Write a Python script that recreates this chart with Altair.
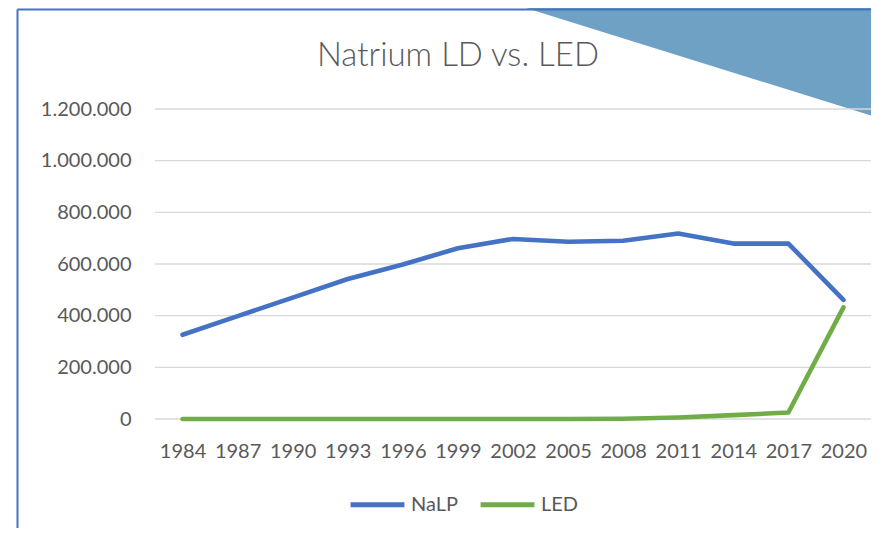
import altair as alt
import pandas as pd

years = [1984, 1987, 1990, 1993, 1996, 1999, 2002, 2005, 2008, 2011, 2014, 2017, 2020]
nalp = [326000, 398000, 470000, 542000, 598000, 661000, 697000, 686000, 690000, 718000, 679000, 679000, 461000]
led = [0, 0, 0, 0, 0, 0, 0, 0, 1000, 6000, 15000, 25000, 432000]
series_names = ["NaLP", "LED"]
series_colors = ["#4472C4", "#70AD47"]
y_ticks = [0, 200000, 400000, 600000, 800000, 1000000, 1200000]
title_text = ["Natrium LD vs. LED"]

W, H = 716, 310
FONT = "Lato"
GREY = "#595959"

rows = []
for y, a, b in zip(years, nalp, led):
    rows.append({"Jahr": str(y), "Serie": "NaLP", "Wert": a})
    rows.append({"Jahr": str(y), "Serie": "LED", "Wert": b})
df = pd.DataFrame(rows)
grid_df = pd.DataFrame({"v": y_ticks})
one = pd.DataFrame({"k": [0]})
title_df = pd.DataFrame({"t": title_text})

yscale = alt.Scale(domain=[0, 1200000])
yaxis = alt.Axis(title=None, values=y_ticks, labelFontSize=20, labelFont=FONT,
                 labelColor=GREY, ticks=False, tickSize=0, domain=False, grid=False,
                 labelPadding=24,
                 labelExpr="replace(format(datum.value, ','), regexp(',', 'g'), '.')")

# decorative slide triangle (background)
tri = alt.Chart(one).mark_point(
    shape="M-1,-1L1,-1L1,-0.3774Z", filled=True, color="#6FA1C4", opacity=1, strokeWidth=0
).encode(x=alt.value(513), y=alt.value(103.1), size=alt.value(215482))

grid = alt.Chart(grid_df).mark_rule(color="#D9D9D9", strokeWidth=1.3).encode(
    y=alt.Y("v:Q", scale=yscale, axis=yaxis),
    x=alt.value(0), x2=alt.value(W),
)

lines = alt.Chart(df).mark_line(strokeWidth=4.6, strokeCap="round", strokeJoin="round").encode(
    x=alt.X("Jahr:O", scale=alt.Scale(type="point", padding=0.5),
            sort=[str(y) for y in years],
            axis=alt.Axis(title=None, labelFontSize=20, labelFont=FONT, labelColor=GREY,
                          labelAngle=0, ticks=False, tickSize=0, domain=False,
                          labelPadding=22, grid=False)),
    y=alt.Y("Wert:Q", scale=yscale, axis=yaxis),
    color=alt.Color("Serie:N", scale=alt.Scale(domain=series_names, range=series_colors),
                    sort=series_names,
                    legend=alt.Legend(title=None, orient="none", direction="horizontal",
                                      legendX=193, legendY=366, symbolType="stroke",
                                      symbolStrokeWidth=5, symbolSize=2900,
                                      labelFont=FONT, labelFontSize=20, labelColor=GREY,
                                      labelOffset=4, columnPadding=12)),
    detail="Serie:N",
)

title = alt.Chart(title_df).mark_text(
    font=FONT, fontSize=33, fontWeight=300, color=GREY, align="center", baseline="alphabetic"
).encode(text="t:N", x=alt.value(303), y=alt.value(-43))

border_left = alt.Chart(one).mark_rule(color="#4472C4", strokeWidth=2).encode(
    x=alt.value(-137.5), y=alt.value(-99.5), y2=alt.value(440))
border_top = alt.Chart(one).mark_rule(color="#4472C4", strokeWidth=2).encode(
    x=alt.value(-137.5), x2=alt.value(740), y=alt.value(-99.5))

chart = alt.layer(tri, grid, lines, title, border_left, border_top).properties(
    width=W, height=H,
    autosize=alt.AutoSizeParams(type="none"),
    padding={"left": 147, "top": 101, "right": 0, "bottom": 109},
    background="white",
).configure_view(strokeWidth=0)

chart.save("out.html", embed_options={"renderer": "svg", "actions": False})
